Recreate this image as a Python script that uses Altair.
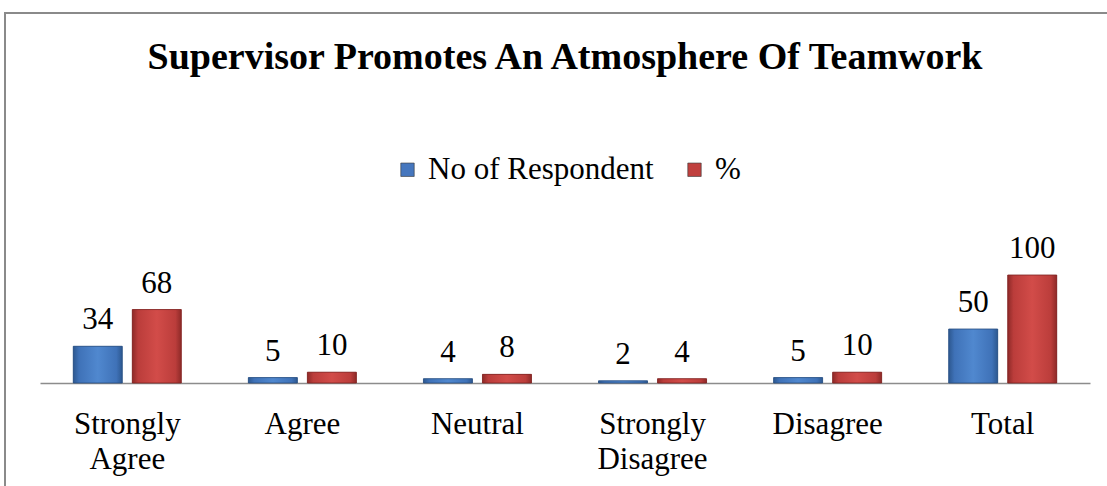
import altair as alt
import pandas as pd

categories = ["Strongly Agree", "Agree", "Neutral", "Strongly Disagree", "Disagree", "Total"]
respondents = [34, 5, 4, 2, 5, 50]
percent = [68, 10, 8, 4, 10, 100]
series_names = ["No of Respondent", "%"]
series_colors = ["#4677BE", "#C0403E"]

rows = []
for c, r, p in zip(categories, respondents, percent):
    rows.append({"cat": c, "series": series_names[0], "value": r})
    rows.append({"cat": c, "series": series_names[1], "value": p})
df = pd.DataFrame(rows)

FONT = "Liberation Serif"
FS = 31

x_enc = alt.X("cat:N", sort=categories,
              scale=alt.Scale(paddingInner=0.383, paddingOuter=0.19),
              axis=alt.Axis(title=None, labelExpr="split(datum.label, ' ')",
                            labelFont=FONT, labelFontSize=FS, labelColor="#000",
                            labelAngle=0, labelPadding=26, labelLineHeight=35,
                            ticks=False, domainColor="#8c8c8c", domainWidth=1.5,
                            labelBaseline="top", labelLimit=0))
xoff = alt.XOffset("series:N", sort=series_names,
                   scale=alt.Scale(paddingInner=0.17, paddingOuter=0))
y_enc = alt.Y("value:Q", scale=alt.Scale(domain=[0, 100], nice=False),
              axis=None)

base = alt.Chart(df)

bars = base.mark_bar().encode(
    x=x_enc, xOffset=xoff, y=y_enc,
    color=alt.Color("series:N", sort=series_names,
                    scale=alt.Scale(domain=series_names, range=series_colors),
                    legend=alt.Legend(title=None, orient="none", direction="horizontal",
                                      legendX=352, legendY=-121,
                                      symbolType="square", symbolSize=180,
                                      symbolStrokeWidth=0.6, symbolStrokeColor="#333",
                                      labelFont=FONT, labelFontSize=31, labelColor="#000",
                                      columnPadding=25, labelOffset=5, labelLimit=0)),
)

def grad(dark, mid, light):
    return alt.Gradient(gradient="linear", x1=0, x2=1, y1=0, y2=0,
                        stops=[alt.GradientStop(offset=0, color=dark),
                               alt.GradientStop(offset=0.12, color=mid),
                               alt.GradientStop(offset=0.5, color=light),
                               alt.GradientStop(offset=0.88, color=mid),
                               alt.GradientStop(offset=1, color=dark)])

blue_g = base.transform_filter(alt.datum.series == series_names[0]).mark_bar(
    fill=grad("#2d5890", "#3f72b8", "#5088cf"), stroke="#2a4f80", strokeWidth=0.8
).encode(x=x_enc, xOffset=xoff, y=y_enc)
red_g = base.transform_filter(alt.datum.series == series_names[1]).mark_bar(
    fill=grad("#8e2a28", "#bb3d3b", "#d24c49"), stroke="#7e2322", strokeWidth=0.8
).encode(x=x_enc, xOffset=xoff, y=y_enc)

labels = base.mark_text(font=FONT, fontSize=FS, color="#000", baseline="bottom", dy=-10).encode(
    x=x_enc, xOffset=xoff, y=y_enc, text="value:Q")

frame = alt.Chart(pd.DataFrame({"a": [0]})).mark_rect(
    fill=None, stroke="#8a8a8a", strokeWidth=2).encode(
    x=alt.value(-35), x2=alt.value(1200), y=alt.value(-262), y2=alt.value(400))

chart = alt.layer(frame, bars, blue_g, red_g, labels).properties(
    width=1050, height=108,
    padding={"left": 40, "top": 275, "right": 17, "bottom": 103},
    autosize=alt.AutoSizeParams(type="none"),
    background="white",
    title=alt.TitleParams("Supervisor Promotes An Atmosphere Of Teamwork",
                          font=FONT, fontSize=38, fontWeight="bold", color="#000",
                          anchor="middle", offset=-65),
).configure_view(strokeWidth=0)

chart.save("out.html", embed_options={"renderer": "svg", "actions": False})
